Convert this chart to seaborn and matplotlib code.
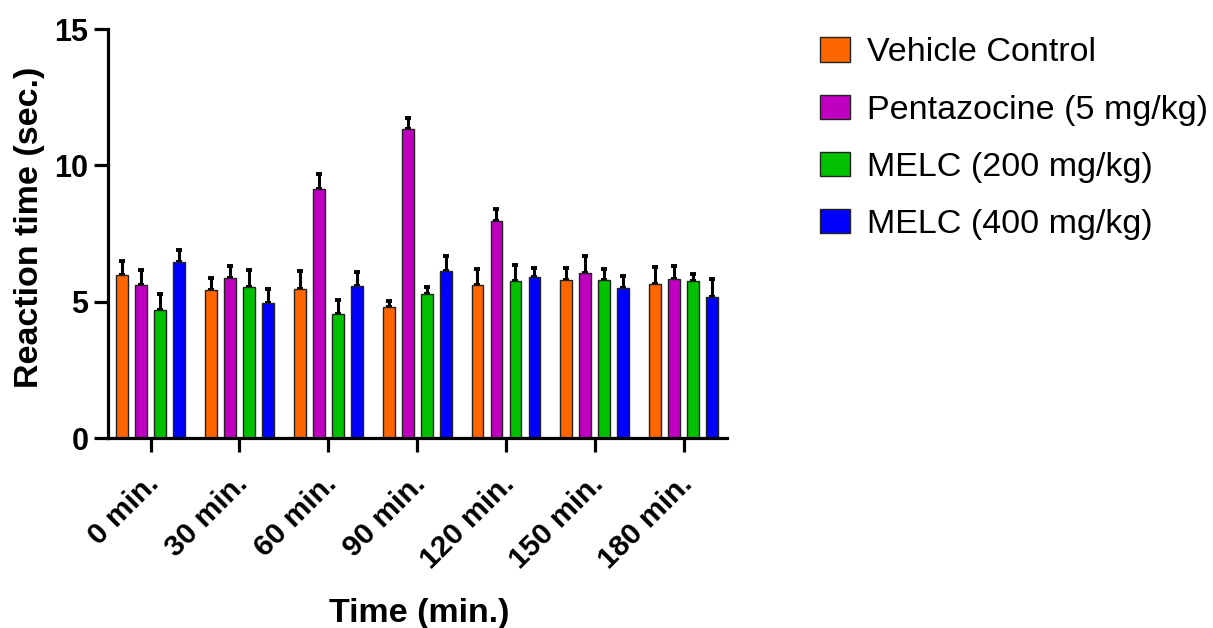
import numpy as np
import pandas as pd
import matplotlib
matplotlib.use("Agg")
import matplotlib.pyplot as plt
import matplotlib.transforms as mtransforms
import seaborn as sns

times = ["0 min.", "30 min.", "60 min.", "90 min.", "120 min.", "150 min.", "180 min."]
groups = ["Vehicle Control", "Pentazocine (5 mg/kg)", "MELC (200 mg/kg)", "MELC (400 mg/kg)"]

vehicle = [5.99, 5.42, 5.46, 4.80, 5.62, 5.79, 5.65]
pentazocine = [5.62, 5.87, 9.13, 11.32, 7.95, 6.05, 5.83]
melc200 = [4.69, 5.53, 4.56, 5.27, 5.75, 5.78, 5.76]
melc400 = [6.46, 4.95, 5.59, 6.13, 5.89, 5.50, 5.17]

vehicle_err = [0.49, 0.46, 0.65, 0.24, 0.58, 0.46, 0.62]
pentazocine_err = [0.53, 0.43, 0.55, 0.41, 0.44, 0.62, 0.47]
melc200_err = [0.58, 0.62, 0.51, 0.27, 0.61, 0.42, 0.24]
melc400_err = [0.45, 0.53, 0.49, 0.53, 0.36, 0.43, 0.65]

colors = ["#FF6600", "#C000C0", "#00C000", "#0000FF"]

means = [vehicle, pentazocine, melc200, melc400]
errs = [vehicle_err, pentazocine_err, melc200_err, melc400_err]

df = pd.DataFrame({
    "time": times * len(groups),
    "group": np.repeat(groups, len(times)),
    "value": np.concatenate(means),
})

plt.rcParams["font.family"] = ["Liberation Sans", "DejaVu Sans"]

fig = plt.figure(figsize=(12.13, 6.28), dpi=100)
ax = fig.add_axes([0.089, 0.3025, 0.5105, 0.6513])

sns.barplot(data=df, x="time", y="value", hue="group", order=times,
            hue_order=groups, palette=colors, width=0.856, gap=0.38,
            errorbar=None, edgecolor="#222222", linewidth=1.0, ax=ax,
            saturation=1, zorder=2)

# one-sided error bars on top of each bar (hidden behind the bar body)
for cont, err in zip(ax.containers, errs):
    xs = [b.get_x() + b.get_width() / 2 for b in cont]
    hs = [b.get_height() for b in cont]
    ax.errorbar(xs, hs, yerr=[np.zeros(len(err)), err], fmt="none",
                ecolor="black", elinewidth=2.2, capsize=2.5, capthick=2.8,
                zorder=1)

ax.set_ylim(0, 15)
ax.set_xlim(-0.48, 6.49)
ax.set_yticks([0, 5, 10, 15])
sns.despine(ax=ax)
for s in ["left", "bottom"]:
    ax.spines[s].set_linewidth(2.3)
ax.tick_params(axis="both", width=2.3, length=10)
ax.tick_params(axis="y", labelsize=22, pad=4)
ax.tick_params(axis="x", labelsize=21.5, pad=4)
for lab in ax.get_yticklabels():
    lab.set_fontweight("bold")
shift = mtransforms.ScaledTranslation(-6 / 100, -12 / 100, fig.dpi_scale_trans)
for lab in ax.get_xticklabels():
    lab.set_rotation(45)
    lab.set_ha("right")
    lab.set_rotation_mode("anchor")
    lab.set_fontweight("bold")
    lab.set_transform(lab.get_transform() + shift)

ax.set_ylabel("Reaction time (sec.)", fontsize=24.5, fontweight="bold", va="center")
ax.yaxis.set_label_coords(-0.126, 0.515)
ax.set_xlabel("Time (min.)", fontsize=24.5, fontweight="bold", va="top")
ax.xaxis.set_label_coords(0.502, -0.39)

ax.legend(loc="upper left", bbox_to_anchor=(0.665, 0.962),
          bbox_transform=fig.transFigure, frameon=False, fontsize=24.5,
          handlelength=0.86, handleheight=0.72, handletextpad=0.52,
          labelspacing=0.77, borderaxespad=0)

fig.savefig("out.png", dpi=100)
